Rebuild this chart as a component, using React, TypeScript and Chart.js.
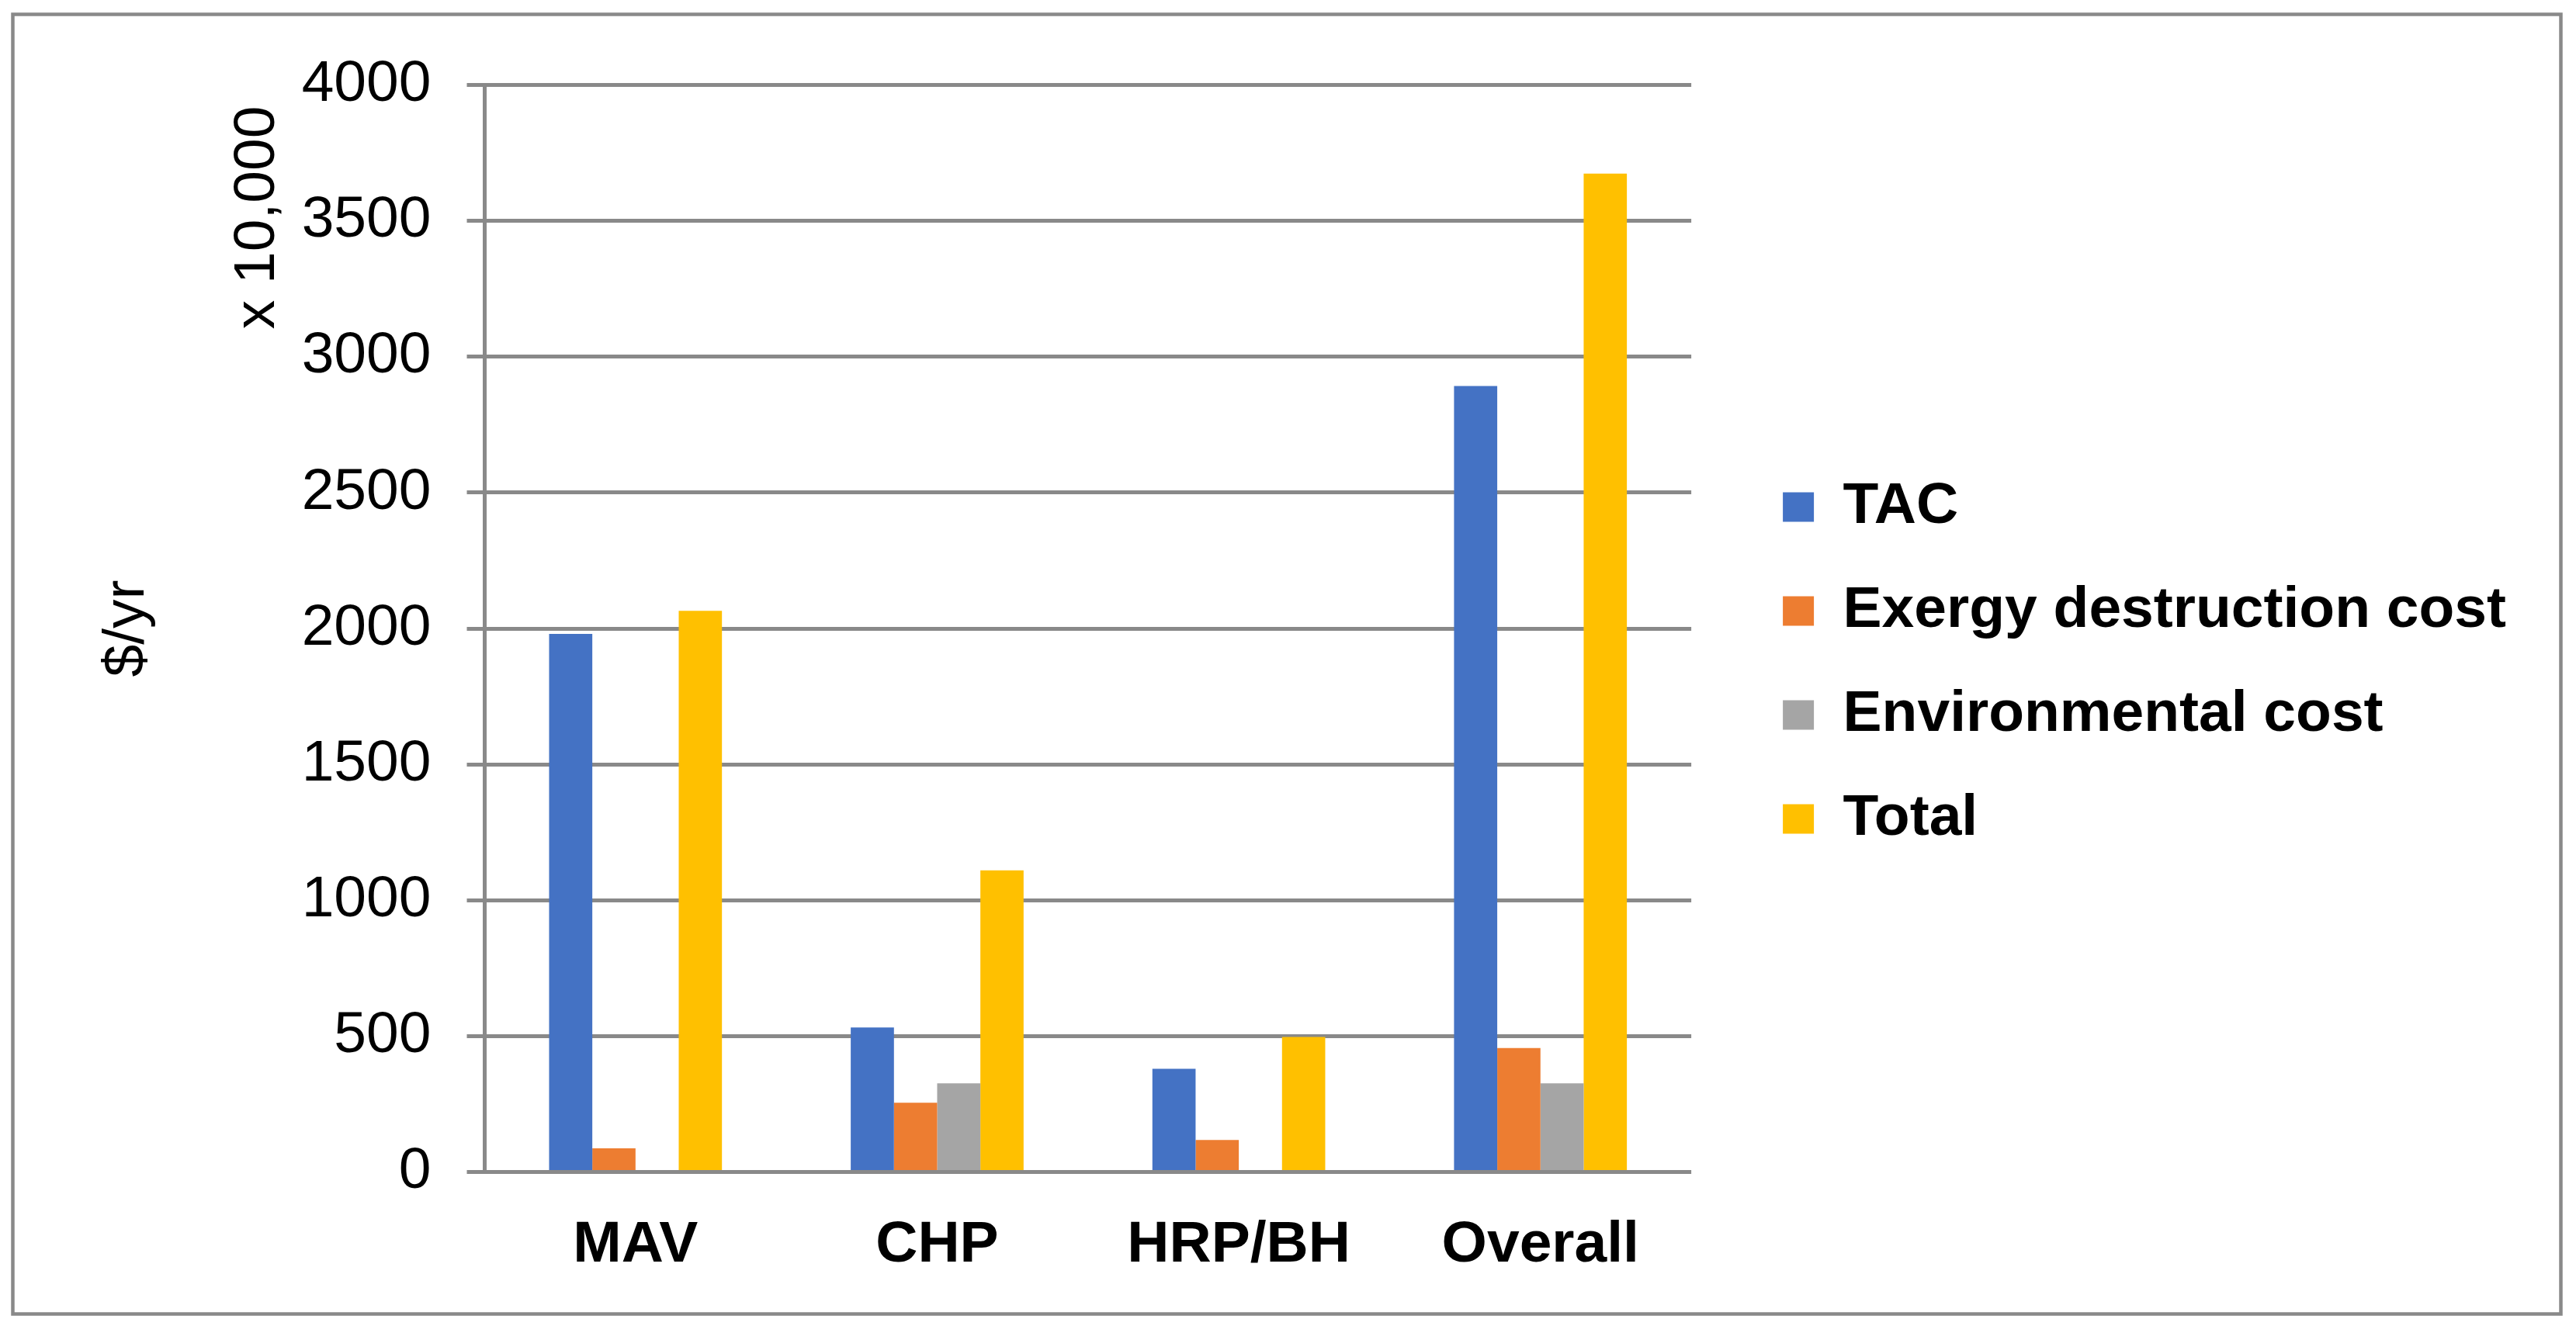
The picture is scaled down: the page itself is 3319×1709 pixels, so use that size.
import React, { useEffect, useRef } from 'react';
import { Chart, registerables } from 'chart.js';

Chart.register(...registerables);

const categories: string[] = ['MAV', 'CHP', 'HRP/BH', 'Overall'];
const seriesNames: string[] = ['TAC', 'Exergy destruction cost', 'Environmental cost', 'Total'];
const tacValues: (number | null)[] = [1980, 532, 380, 2892];
const exergyValues: (number | null)[] = [87, 255, 118, 456];
const environmentalValues: (number | null)[] = [null, 326, null, 326];
const totalValues: (number | null)[] = [2065, 1110, 497, 3674];
const seriesColors: string[] = ['#4472C4', '#ED7D31', '#A5A5A5', '#FFC000'];
const yTickLabels: string[] = ['0', '500', '1000', '1500', '2000', '2500', '3000', '3500', '4000'];
const yMin = 0;
const yMax = 4000;
const yStep = 500;
const yTitle = '$/yr';
const unitLabel = 'x 10,000';

const FONT = '"Liberation Sans", Arial, Helvetica, sans-serif';
const GRID = '#898989';

const framePlugin = {
  id: 'frameAndUnit',
  beforeDraw(chart: any) {
    const ctx = chart.ctx;
    ctx.save();
    ctx.fillStyle = '#ffffff';
    ctx.fillRect(0, 0, chart.width, chart.height);
    ctx.strokeStyle = GRID;
    ctx.lineWidth = 4.5;
    ctx.strokeRect(16.5, 18.5, 3283, 1675);
    ctx.restore();
  },
  afterDraw(chart: any) {
    const ctx = chart.ctx;
    const area = chart.chartArea;
    ctx.save();
    ctx.translate(area.left - 272, area.top + 171);
    ctx.rotate(-Math.PI / 2);
    ctx.font = `75px ${FONT}`;
    ctx.fillStyle = '#000000';
    ctx.textAlign = 'center';
    ctx.textBaseline = 'alphabetic';
    ctx.fillText(unitLabel, 0, 0);
    ctx.restore();
  },
};

export default function App() {
  const canvasRef = useRef<HTMLCanvasElement | null>(null);

  useEffect(() => {
    const canvas = canvasRef.current;
    if (!canvas) return;
    const seriesData = [tacValues, exergyValues, environmentalValues, totalValues];
    const chart = new Chart(canvas, {
      type: 'bar',
      data: {
        labels: categories,
        datasets: seriesNames.map((name, i) => ({
          label: name,
          data: seriesData[i],
          backgroundColor: seriesColors[i],
          borderWidth: 0,
          categoryPercentage: 0.573,
          barPercentage: 1.0,
        })),
      },
      options: {
        responsive: false,
        animation: false,
        devicePixelRatio: 1,
        layout: {
          padding: { top: 0, bottom: 0, left: 20, right: 80 },
        },
        plugins: {
          legend: {
            position: 'right',
            align: 'center',
            maxWidth: 1400,
            labels: {
              boxWidth: 40,
              boxHeight: 38,
              padding: 59,
              color: '#000000',
              font: { family: FONT, size: 75, weight: 'bold' },
            },
          },
          tooltip: { enabled: false },
          title: {
            display: true,
            text: '',
            padding: { top: 108.5, bottom: 0 },
            font: { family: FONT, size: 1, lineHeight: 1 },
          },
        },
        scales: {
          x: {
            type: 'category',
            grid: { display: false },
            border: { display: false },
            ticks: {
              color: '#000000',
              padding: 42,
              font: { family: FONT, size: 75, weight: 'bold' },
              maxRotation: 0,
              autoSkip: false,
            },
            afterFit: (s: any) => {
              s.height = 198.5;
            },
          },
          y: {
            type: 'linear',
            position: 'left',
            min: yMin,
            max: yMax,
            ticks: {
              stepSize: yStep,
              color: '#000000',
              padding: 46,
              font: { family: FONT, size: 75 },
              callback: (_v: any, index: number) => yTickLabels[index],
            },
            grid: {
              color: GRID,
              lineWidth: 5,
              tickLength: 23,
              tickColor: GRID,
              drawTicks: true,
            },
            border: { display: true, color: GRID, width: 5 },
            title: {
              display: true,
              text: yTitle,
              color: '#000000',
              padding: { top: 99, bottom: 0 },
              font: { family: FONT, size: 75 },
            },
            afterFit: (s: any) => {
              s.width = 604.5;
            },
          },
          spacer: {
            type: 'linear',
            position: 'right',
            display: true,
            grid: { display: false, drawTicks: false },
            border: { display: false },
            ticks: { display: false },
            afterFit: (s: any) => {
              s.width = 59;
            },
          },
        },
      } as any,
      plugins: [framePlugin],
    });
    return () => {
      chart.destroy();
    };
  }, []);

  return (
    <div style={{ position: 'fixed', left: 0, top: 0, width: 3319, height: 1709, background: '#ffffff' }}>
      <canvas ref={canvasRef} width={3319} height={1709} style={{ display: 'block' }} />
    </div>
  );
}
